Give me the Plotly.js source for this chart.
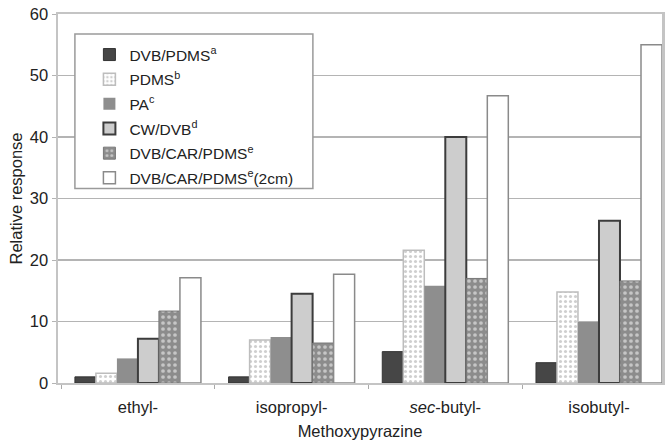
<!DOCTYPE html>
<html>
<head>
<meta charset="utf-8">
<script src="https://cdn.plot.ly/plotly-3.0.1.min.js"></script>
<style>html,body{margin:0;padding:0;background:#fff;}#chart{width:666px;height:444px;}</style>
</head>
<body>
<div id="chart"></div>
<script>
const categories = ["ethyl-", "isopropyl-", "<i>sec</i>-butyl-", "isobutyl-"];
const seriesNames = ["DVB/PDMS<sup>a</sup>", "PDMS<sup>b</sup>", "PA<sup>c</sup>", "CW/DVB<sup>d</sup>", "DVB/CAR/PDMS<sup>e</sup>", "DVB/CAR/PDMS<sup>e</sup>(2cm)"];
const dvbPdms = [1.0, 1.0, 5.1, 3.3];
const pdms = [1.6, 7.0, 21.6, 14.8];
const pa = [4.0, 7.5, 15.8, 9.9];
const cwDvb = [7.2, 14.5, 40.0, 26.4];
const dvbCarPdms = [11.7, 6.5, 17.0, 16.6];
const dvbCarPdms2cm = [17.1, 17.7, 46.7, 55.0];
const yTicks = [0, 10, 20, 30, 40, 50, 60];

const values = [dvbPdms, pdms, pa, cwDvb, dvbCarPdms, dvbCarPdms2cm];
const styles = [
  {color: "#464646", line: {color: "#333", width: 1}},
  {color: "#ffffff", line: {color: "#bdbdbd", width: 1.5}, pattern: {shape: ".", fgcolor: "#cfcfcf", bgcolor: "#ffffff", size: 5, solidity: 0.3, fillmode: "replace"}},
  {color: "#8e8e8e", line: {color: "#8e8e8e", width: 0}},
  {color: "#cdcdcd", line: {color: "#3c3c3c", width: 2}},
  {color: "#8c8c8c", line: {color: "#777", width: 1}, pattern: {shape: ".", fgcolor: "#c6c6c6", bgcolor: "#8c8c8c", size: 6, solidity: 0.3, fillmode: "replace"}},
  {color: "#ffffff", line: {color: "#8a8a8a", width: 1.5}}
];

const traces = values.map((v, i) => ({
  type: "bar",
  x: categories,
  y: v,
  name: seriesNames[i],
  legendgroup: "g" + i,
  marker: styles[i]
}));

const layout = {
  width: 666, height: 444,
  margin: {l: 58, r: 4, t: 14, b: 61},
  paper_bgcolor: "#fff", plot_bgcolor: "#fff",
  font: {family: "'Liberation Sans', Arial, sans-serif", size: 16, color: "#222"},
  barmode: "group",
  bargap: 0.18,
  bargroupgap: 0,
  showlegend: true,
  legend: {
    x: 0.052, y: 0.935, xanchor: "left", yanchor: "top",
    bgcolor: "rgba(0,0,0,0)", borderwidth: 0,
    font: {size: 15.5, color: "#222"},
    tracegroupgap: 1.5
  },
  shapes: [{
    type: "rect", xref: "paper", yref: "paper",
    x0: 0.028, x1: 0.422, y0: 0.527, y1: 0.946,
    fillcolor: "#fff", line: {color: "#9a9a9a", width: 1.5}, layer: "above"
  }],
  xaxis: {
    type: "category",
    range: [-0.52, 3.41],
    showgrid: false,
    showline: true, linecolor: "#c4c4c4", linewidth: 2, mirror: true,
    ticks: "outside", tickson: "boundaries", ticklen: 4, tickcolor: "#aaa",
    ticklabelstandoff: 8,
    tickfont: {size: 16.5, color: "#222"},
    title: {text: "Methoxypyrazine", font: {size: 16.5, color: "#222"}, standoff: 11}
  },
  yaxis: {
    range: [0, 60],
    tickvals: yTicks,
    showgrid: true, gridcolor: "#b4b4b4", gridwidth: 1.5,
    zeroline: false,
    showline: true, linecolor: "#c4c4c4", linewidth: 2.5, mirror: true,
    ticks: "outside", ticklen: 4, tickcolor: "#b4b4b4",
    tickfont: {size: 16.5, color: "#222"},
    title: {text: "Relative response", font: {size: 16.5, color: "#222"}, standoff: 3}
  }
};

Plotly.newPlot("chart", traces, layout, {displayModeBar: false, staticPlot: true});
</script>
</body>
</html>
